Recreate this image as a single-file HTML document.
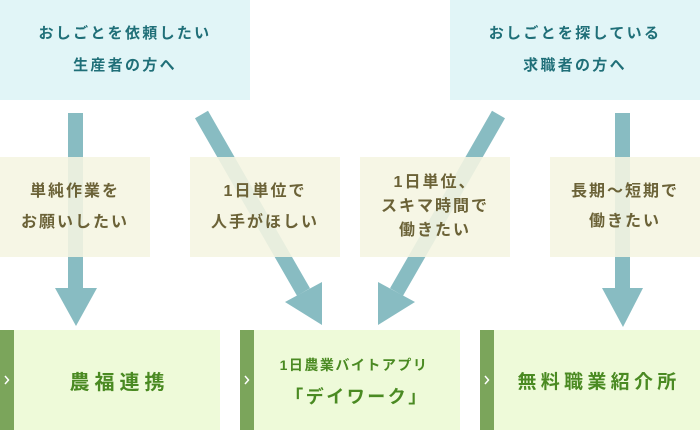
<!DOCTYPE html>
<html><head><meta charset="utf-8">
<style>
html,body{margin:0;padding:0;width:700px;height:430px;overflow:hidden;background:#fff;}
body{position:relative;font-family:"Liberation Sans","Noto Sans CJK JP",sans-serif;}
.box{position:absolute;display:flex;flex-direction:column;align-items:center;justify-content:center;text-align:center;box-sizing:border-box;}
.top{top:0;height:100px;width:250px;background:#e1f5f7;color:#1f6f78;font-size:15px;font-weight:bold;letter-spacing:2.3px;line-height:32px;}
.mid{top:157px;height:100px;width:150px;background:rgba(245,245,225,0.88);color:#6b6237;font-size:16px;font-weight:bold;letter-spacing:2px;line-height:31px;z-index:2;}
.bot{top:330px;height:100px;width:220px;background:#eefad9;color:#4a8a22;font-weight:bold;padding-left:14px;}
.bar{position:absolute;left:0;top:0;width:14px;height:100px;background:#7ba55b;}
.bar svg{position:absolute;left:3px;top:44px;}
svg.arrows{position:absolute;left:0;top:0;z-index:1;}
</style></head><body>
<div class="box top" style="left:0;"><div>おしごとを依頼したい</div><div>生産者の方へ</div></div>
<div class="box top" style="left:450px;"><div>おしごとを探している</div><div>求職者の方へ</div></div>

<svg class="arrows" width="700" height="430" viewBox="0 0 700 430">
<g fill="#88bcc2">
<rect x="68" y="113" width="15" height="176"/>
<polygon points="55,288 97,288 76,326"/>
<rect x="615" y="113" width="15" height="176"/>
<polygon points="602,288 643,288 623,327"/>
<polygon points="195,118.3 208,110.8 310,288.3 297,295.8"/>
<polygon points="322,325 285,302 322,282"/>
<polygon points="505,118.3 492,110.8 390,288.3 403,295.8"/>
<polygon points="378,325 415,302 378,282"/>
</g>
</svg>

<div class="box mid" style="left:0;"><div>単純作業を</div><div>お願いしたい</div></div>
<div class="box mid" style="left:190px;"><div>1日単位で</div><div>人手がほしい</div></div>
<div class="box mid" style="left:360px;line-height:24px;"><div>1日単位、</div><div>スキマ時間で</div><div>働きたい</div></div>
<div class="box mid" style="left:550px;line-height:30px;"><div>長期～短期で</div><div>働きたい</div></div>

<div class="box bot" style="left:0;font-size:20px;letter-spacing:5px;"><div class="bar"><svg width="8" height="12" viewBox="0 0 8 12"><polyline points="2,2 5.5,6 2,10" fill="none" stroke="#fff" stroke-width="1.5"/></svg></div><div style="padding-left:5px;">農福連携</div></div>
<div class="box bot" style="left:240px;"><div class="bar"><svg width="8" height="12" viewBox="0 0 8 12"><polyline points="2,2 5.5,6 2,10" fill="none" stroke="#fff" stroke-width="1.5"/></svg></div><div style="font-size:14px;letter-spacing:1.5px;line-height:32px;margin-top:2px;margin-right:6px;">1日農業バイトアプリ</div><div style="font-size:18px;letter-spacing:2.5px;line-height:32px;">「デイワーク」</div></div>
<div class="box bot" style="left:480px;font-size:19px;letter-spacing:4.3px;"><div class="bar"><svg width="8" height="12" viewBox="0 0 8 12"><polyline points="2,2 5.5,6 2,10" fill="none" stroke="#fff" stroke-width="1.5"/></svg></div><div style="padding-left:4px;">無料職業紹介所</div></div>
</body></html>
